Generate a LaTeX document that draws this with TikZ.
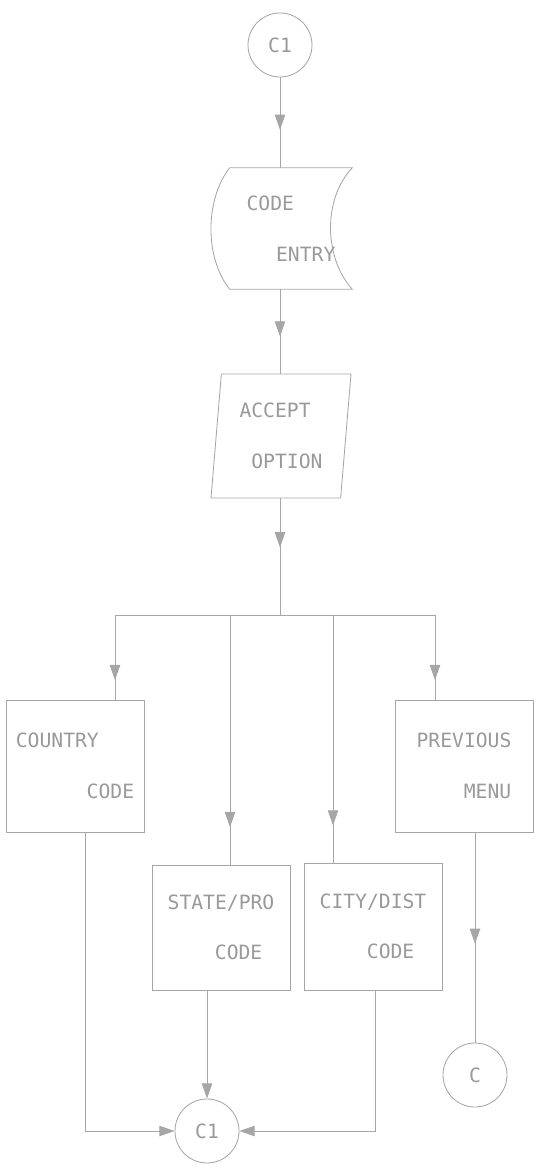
\documentclass[tikz,border=0pt]{standalone}
\usepackage{fontspec}
\newfontfamily\plotfont{DejaVu Sans Mono}
\usetikzlibrary{arrows.meta,shapes.geometric,decorations.markings,calc}

\begin{document}
\begin{tikzpicture}[
    x=0.25mm, y=-0.25mm,
    ink/.style={draw=black!35, line width=0.6pt},
    tip/.style={-{Triangle[width=2.6mm,length=3.8mm]}},
    midarr/.style={postaction={decorate}, decoration={markings,
      mark=at position #1 with {\arrow{Triangle[width=2.6mm,length=3.8mm]}}}},
    txt/.style={font=\plotfont\fontsize{14}{36}\selectfont, text=black!40, align=left},
    conn/.style={circle, ink, txt, minimum size=16mm, inner sep=0pt},
    procbox/.style={rectangle, ink, txt, minimum width=34.5mm, inner sep=0pt},
    iobox/.style={trapezium, trapezium left angle=81, trapezium right angle=99,
      trapezium stretches body, ink, txt, minimum width=35mm, minimum height=31mm, inner sep=0pt}
  ]
    \useasboundingbox (0,0) rectangle (539,1176);
    % connectors and shapes
    \node[conn] (c0) at (280,45) {C1};
    \node[txt, minimum width=30.5mm, minimum height=30.25mm, inner sep=0pt] (entry) at (291,228.5)
      {CODE\\\hspace*{1.5em}ENTRY};
    \draw[ink] (entry.north west) -- (entry.north east)
      .. controls ($(entry.north east)+(-30,32)$) and ($(entry.south east)+(-28,-31)$) .. (entry.south east)
      -- (entry.south west)
      .. controls ($(entry.south west)+(-25,-31)$) and ($(entry.north west)+(-25,32)$) .. (entry.north west);
    \node[iobox] (accept) at (281,436) {ACCEPT\\\hspace*{0.6em}OPTION};
    \node[procbox, minimum height=33mm] (country) at (75,766) {COUNTRY\\\hspace*{3.6em}CODE};
    \node[procbox, minimum height=33mm] (previous) at (464,766) {PREVIOUS\\\hspace*{2.4em}MENU};
    \node[procbox, minimum height=31.25mm] (state) at (221,927.5) {STATE/PRO\\\hspace*{2.4em}CODE};
    \node[procbox, minimum height=31.75mm] (city) at (373,926.5) {CITY/DIST\\\hspace*{2.4em}CODE};
    \node[conn] (c1) at (207,1131) {C1};
    \node[conn] (cprev) at (475,1075) {C};
    % bus points
    \coordinate (b1) at (115,615);
    \coordinate (b2) at (230,615);
    \coordinate (b3) at (333,615);
    \coordinate (b4) at (435,615);
    \coordinate (m1) at (85,1131);
    \coordinate (m3) at (375,1131);
    % flow
    \draw[ink, midarr=0.58] (c0) -- (c0 |- entry.north);
    \draw[ink, midarr=0.56] (entry.south -| c0) -- (accept.north -| c0);
    \draw[ink, midarr=0.42] (accept.south -| c0) -- (c0 |- b1);
    \draw[ink] (b1) -- (b4);
    \draw[ink, midarr=0.77] (b1) -- (b1 |- country.north);
    \draw[ink, midarr=0.85] (b2) -- (b2 |- state.north);
    \draw[ink, midarr=0.85] (b3) -- (b3 |- city.north);
    \draw[ink, midarr=0.77] (b4) -- (b4 |- previous.north);
    \draw[ink, tip] (m1 |- country.south) -- (m1) -- (c1);
    \draw[ink, tip] (c1 |- state.south) -- (c1);
    \draw[ink, tip] (m3 |- city.south) -- (m3) -- (c1);
    \draw[ink, midarr=0.53] (cprev |- previous.south) -- (cprev);
\end{tikzpicture}
\end{document}
